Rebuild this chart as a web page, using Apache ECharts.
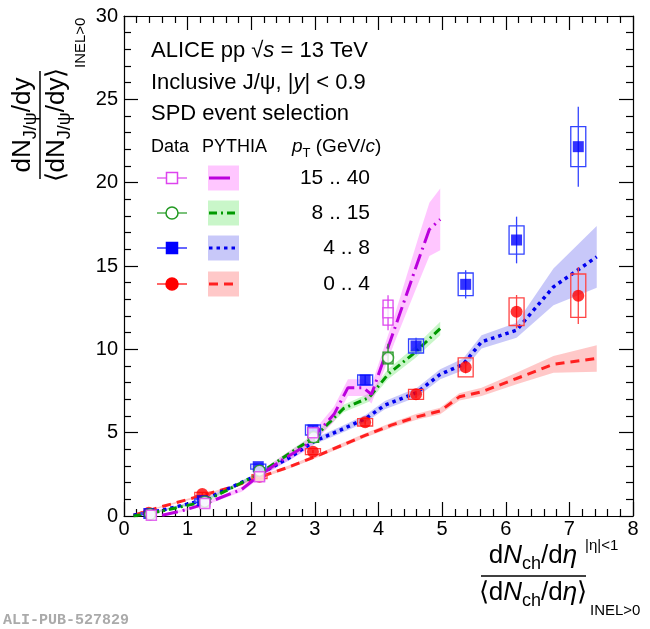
<!DOCTYPE html>
<html>
<head>
<meta charset="utf-8">
<script src="https://cdn.jsdelivr.net/npm/echarts@6/dist/echarts.min.js"></script>
<style>
  html, body { margin: 0; padding: 0; background: #fff; }
  #chart { width: 650px; height: 629px; }
</style>
</head>
<body>
<div id="chart"></div>
<script>
// ALICE J/psi yield vs multiplicity

var ptLabels = ['15 .. 40', '8 .. 15', '4 .. 8', '0 .. 4'];

// Data: x, y, statistical and systematic errors
var d15_40X = [0.43, 1.27, 2.13, 2.97, 4.15];
var d15_40Y = [0.05, 0.75, 2.36, 5.0, 12.2];
var d15_40Stat = [0.05, 0.15, 0.3, 0.4, 1.05];
var d15_40Syst = [0.1, 0.2, 0.25, 0.3, 0.75];

var d8_15X = [0.41, 1.27, 2.13, 2.98, 4.15];
var d8_15Y = [0.1, 0.86, 2.72, 4.72, 9.48];
var d8_15Stat = [0.05, 0.1, 0.2, 0.3, 0.85];
var d8_15Syst = [0.06, 0.12, 0.18, 0.3, 0.35];

var d4_8X = [0.39, 1.23, 2.11, 2.97, 3.79, 4.59, 5.37, 6.17, 7.14];
var d4_8Y = [0.15, 0.92, 2.96, 5.16, 8.16, 10.2, 13.9, 16.56, 22.16];
var d4_8Stat = [0.05, 0.07, 0.12, 0.18, 0.3, 0.5, 0.85, 1.4, 2.4];
var d4_8Syst = [0.05, 0.1, 0.15, 0.3, 0.3, 0.42, 0.68, 0.85, 1.2];

var d0_4X = [0.39, 1.23, 2.13, 2.97, 3.79, 4.59, 5.37, 6.17, 7.14];
var d0_4Y = [0.2, 1.32, 2.36, 3.86, 5.62, 7.3, 8.92, 12.26, 13.22];
var d0_4Stat = [0.04, 0.06, 0.08, 0.1, 0.15, 0.22, 0.35, 1.0, 1.7];
var d0_4Syst = [0.06, 0.1, 0.12, 0.18, 0.22, 0.3, 0.57, 0.83, 1.3];

// PYTHIA: x, y, band half-width
var py15_40X = [0.6, 0.9, 1.25, 1.85, 2.15, 2.5, 2.85, 3.3, 3.52, 3.76, 3.89, 4.25, 4.45, 4.65, 4.8, 4.97];
var py15_40Y = [0.05, 0.3, 0.7, 1.6, 2.5, 3.4, 4.2, 6.1, 7.7, 7.7, 7.3, 11.2, 13.4, 15.6, 17.2, 17.8];
var py15_40E = [0.05, 0.08, 0.1, 0.15, 0.2, 0.25, 0.3, 0.45, 0.5, 0.5, 0.55, 0.8, 1.1, 1.4, 1.6, 1.85];

var py8_15X = [0.15, 0.6, 1.25, 1.7, 2.15, 2.6, 3.0, 3.45, 3.85, 4.15, 4.57, 4.97];
var py8_15Y = [0.0, 0.3, 0.85, 1.7, 2.6, 3.75, 4.75, 6.45, 7.1, 8.5, 9.8, 11.25];
var py8_15E = [0.03, 0.05, 0.08, 0.1, 0.12, 0.15, 0.18, 0.22, 0.25, 0.3, 0.35, 0.4];

var py4_8X = [0.15, 0.6, 1.25, 1.7, 2.15, 2.6, 3.0, 3.4, 3.8, 4.1, 4.6, 4.97, 5.33, 5.62, 6.17, 6.75, 7.43];
var py4_8Y = [0.05, 0.35, 0.95, 1.75, 2.55, 3.5, 4.5, 5.15, 5.85, 6.65, 7.4, 8.5, 9.1, 10.45, 11.15, 13.75, 15.55];
var py4_8E = [0.03, 0.05, 0.08, 0.1, 0.12, 0.15, 0.18, 0.2, 0.22, 0.25, 0.28, 0.3, 0.35, 0.4, 0.45, 1.1, 1.85];

var py0_4X = [0.15, 0.63, 1.25, 1.7, 2.15, 2.6, 3.0, 3.4, 3.8, 4.2, 4.6, 4.97, 5.27, 5.62, 6.17, 6.75, 7.43];
var py0_4Y = [0.05, 0.6, 1.25, 1.75, 2.35, 2.95, 3.55, 4.2, 4.85, 5.45, 5.95, 6.3, 7.15, 7.45, 8.25, 9.1, 9.45];
var py0_4E = [0.03, 0.05, 0.06, 0.07, 0.08, 0.1, 0.1, 0.12, 0.13, 0.15, 0.18, 0.2, 0.22, 0.25, 0.35, 0.5, 0.8];

var FONT = "'Liberation Sans', Arial, Helvetica, sans-serif";
var measureCtx = document.createElement('canvas').getContext('2d');

function fontStr(size, italic) { return (italic ? 'italic ' : '') + size + 'px ' + FONT; }
function textW(s, size, italic) {
  measureCtx.font = fontStr(size, italic);
  return measureCtx.measureText(s).width;
}

// lay out a row of text pieces (with sub/superscripts) as graphic texts
function mathRow(parts, size, x0, y0, align) {
  var items = [], w = 0;
  parts.forEach(function(p) {
    var fs = (p.sub || p.sup) ? Math.round(size * 0.68) : size;
    var dy = p.sub ? size * 0.32 : (p.sup ? -size * 0.38 : 0);
    items.push({ t: p.t, fs: fs, dy: dy, i: p.i, x: w });
    w += textW(p.t, fs, p.i);
  });
  var start = align === 'center' ? x0 - w / 2 : (align === 'right' ? x0 - w : x0);
  return items.map(function(it) {
    return {
      type: 'text', x: start + it.x, y: y0 + it.dy,
      style: {
        text: it.t, font: fontStr(it.fs, it.i), fill: '#000',
        textAlign: 'left', textVerticalAlign: 'middle', align: 'left', verticalAlign: 'middle'
      }
    };
  });
}

function bandSeries(xs, ys, es, color) {
  return {
    type: 'custom', silent: true, z: 1, clip: true,
    data: [[xs[0], ys[0]]],
    renderItem: function(params, api) {
      var pts = [];
      for (var i = 0; i < xs.length; i++) pts.push(api.coord([xs[i], ys[i] + es[i]]));
      for (var j = xs.length - 1; j >= 0; j--) pts.push(api.coord([xs[j], Math.max(0, ys[j] - es[j])]));
      return { type: 'polygon', shape: { points: pts }, style: { fill: color } };
    }
  };
}

function lineSeries(xs, ys, color, dash, width) {
  return {
    type: 'line', z: 3, silent: true, symbol: 'none', clip: true,
    data: xs.map(function(x, i) { return [x, ys[i]]; }),
    lineStyle: { color: color, width: width, type: dash, cap: 'butt' }
  };
}

function errorSeries(xs, ys, stat, syst, color, boxHalf) {
  return {
    type: 'custom', z: 5, silent: true,
    data: xs.map(function(x, i) { return [x, ys[i], stat[i], syst[i]]; }),
    renderItem: function(params, api) {
      var x = api.value(0), y = api.value(1), st = api.value(2), sy = api.value(3);
      var c = api.coord([x, y]);
      var top = api.coord([x, y + st])[1], bot = api.coord([x, Math.max(0, y - st)])[1];
      var bt = api.coord([x, y + sy])[1], bb = api.coord([x, Math.max(0, y - sy)])[1];
      return {
        type: 'group',
        children: [
          { type: 'line', shape: { x1: c[0], y1: top, x2: c[0], y2: bot }, style: { stroke: color, lineWidth: 1.3 } },
          { type: 'rect', shape: { x: c[0] - boxHalf, y: bt, width: 2 * boxHalf, height: bb - bt },
            style: { fill: 'none', stroke: color, lineWidth: 1.3 } }
        ]
      };
    }
  };
}

function pointSeries(xs, ys, symbol, size, color, open) {
  return {
    type: 'scatter', z: 6, silent: true, symbol: symbol, symbolSize: size,
    data: xs.map(function(x, i) { return [x, ys[i]]; }),
    itemStyle: open ? { color: '#fff', borderColor: color, borderWidth: 1.5 } : { color: color }
  };
}

var colMag = '#dd44ee', colGrn = '#229922', colBlu = '#0000ff', colRed = '#ff0000';
var lineMag = '#bb00dd', lineGrn = '#009900', lineBlu = '#0000ee', lineRed = '#ff2020';
var bandMag = 'rgba(255,120,255,0.42)', bandGrn = 'rgba(100,230,100,0.35)';
var bandBlu = 'rgba(110,110,240,0.38)', bandRed = 'rgba(255,110,110,0.38)';
var dashMag = [16, 5, 2, 5], dashGrn = [8, 4, 2, 4], dashBlu = [3.5, 4], dashRed = [9, 6];

var chart = echarts.init(document.getElementById('chart'));

function axisCommon(extra) {
  var a = {
    type: 'value',
    axisLine: { onZero: false, lineStyle: { color: '#000', width: 1.2 } },
    axisTick: { inside: true, length: 14, lineStyle: { color: '#000', width: 1.2 } },
    minorTick: { show: true, splitNumber: 5, length: 7, lineStyle: { color: '#000', width: 1.2 } },
    splitLine: { show: false },
    axisLabel: { fontSize: 20, color: '#000', fontFamily: FONT }
  };
  for (var k in extra) a[k] = extra[k];
  return a;
}

// legend + annotations
var graphics = [];
graphics = graphics.concat(
  mathRow([{ t: 'ALICE pp ' }, { t: '√' }, { t: 's', i: 1 }, { t: ' = 13 TeV' }], 22, 151, 51, 'left'),
  mathRow([{ t: 'Inclusive J/ψ, |' }, { t: 'y', i: 1 }, { t: '| < 0.9' }], 22, 151, 83, 'left'),
  mathRow([{ t: 'SPD event selection' }], 22, 151, 114, 'left'),
  mathRow([{ t: 'Data' }], 18, 151, 147, 'left'),
  mathRow([{ t: 'PYTHIA' }], 18, 202, 147, 'left'),
  mathRow([{ t: 'p', i: 1 }, { t: 'T', sub: 1 }, { t: ' (GeV/' }, { t: 'c', i: 1 }, { t: ')' }], 19, 292, 147, 'left')
);

var legRows = [178, 213, 248, 284];
var legData = [
  { c: colMag, l: lineMag, b: bandMag, d: [], sym: 'rect', open: true, lx2: 230 },
  { c: colGrn, l: lineGrn, b: bandGrn, d: dashGrn, sym: 'circle', open: true, lx2: 238 },
  { c: colBlu, l: lineBlu, b: bandBlu, d: dashBlu, sym: 'rect', open: false, lx2: 238 },
  { c: colRed, l: lineRed, b: bandRed, d: dashRed, sym: 'circle', open: false, lx2: 238 }
];
legData.forEach(function(e, i) {
  var y = legRows[i];
  graphics.push({ type: 'line', shape: { x1: 157, y1: y, x2: 187, y2: y }, style: { stroke: e.c, lineWidth: 1.2 } });
  if (e.sym === 'rect') {
    graphics.push({ type: 'rect', shape: { x: 172 - 5.5, y: y - 5.5, width: 11, height: 11 },
      style: { fill: e.open ? '#fff' : e.c, stroke: e.c, lineWidth: 1.5 } });
  } else {
    graphics.push({ type: 'circle', shape: { cx: 172, cy: y, r: 6 },
      style: { fill: e.open ? '#fff' : e.c, stroke: e.c, lineWidth: 1.5 } });
  }
  graphics.push({ type: 'rect', shape: { x: 208, y: y - 12.5, width: 31, height: 25 }, style: { fill: e.b } });
  graphics.push({ type: 'line', shape: { x1: 209, y1: y, x2: e.lx2, y2: y },
    style: { stroke: e.l, lineWidth: 3, lineDash: e.d.length ? e.d : null } });
  graphics = graphics.concat(mathRow([{ t: ptLabels[i] }], 21, 370, y, 'right'));
});

// y-axis title (rotated fraction)
graphics.push({
  type: 'group', x: 40, y: 125, rotation: Math.PI / 2,
  children: [].concat(
    mathRow([{ t: 'dN' }, { t: 'J/ψ', sub: 1 }, { t: '/dy' }], 26, 0, -17, 'center'),
    [{ type: 'line', shape: { x1: -54, y1: 0, x2: 54, y2: 0 }, style: { stroke: '#000', lineWidth: 1.5 } }],
    mathRow([{ t: '⟨dN' }, { t: 'J/ψ', sub: 1 }, { t: '/dy⟩' }], 26, 0, 17, 'center'),
    mathRow([{ t: 'INEL>0' }], 15, 57, 41, 'left')
  )
});

// x-axis title
graphics = graphics.concat(
  mathRow([{ t: 'd' }, { t: 'N', i: 1 }, { t: 'ch', sub: 1 }, { t: '/d' }, { t: 'η', i: 1 }], 26, 533, 556, 'center'),
  mathRow([{ t: '|η|<1' }], 15, 585, 546, 'left'),
  [{ type: 'line', shape: { x1: 481, y1: 576, x2: 586, y2: 576 }, style: { stroke: '#000', lineWidth: 1.5 } }],
  mathRow([{ t: '⟨d' }, { t: 'N', i: 1 }, { t: 'ch', sub: 1 }, { t: '/d' }, { t: 'η', i: 1 }, { t: '⟩' }], 26, 533, 593, 'center'),
  mathRow([{ t: 'INEL>0' }], 15, 590, 611, 'left')
);

graphics.push({
  type: 'text', x: 3, y: 620,
  style: { text: 'ALI-PUB-527829', font: "bold 15px 'Liberation Mono', 'DejaVu Sans Mono', monospace", fill: '#aaaaaa',
    textVerticalAlign: 'middle', verticalAlign: 'middle' }
});

chart.setOption({
  animation: false,
  backgroundColor: '#fff',
  grid: { left: 124, right: 17, top: 16, bottom: 113 },
  xAxis: [
    axisCommon({ min: 0, max: 8, interval: 1, position: 'bottom', axisLabel: { fontSize: 20, color: '#000', fontFamily: FONT, margin: 3 } }),
    axisCommon({ min: 0, max: 8, interval: 1, position: 'top', axisLabel: { show: false } })
  ],
  yAxis: [
    axisCommon({ min: 0, max: 30, interval: 5, position: 'left', axisLabel: { fontSize: 20, color: '#000', fontFamily: FONT, margin: 6 } }),
    axisCommon({ min: 0, max: 30, interval: 5, position: 'right', axisLabel: { show: false } })
  ],
  series: [
    bandSeries(py0_4X, py0_4Y, py0_4E, bandRed),
    bandSeries(py4_8X, py4_8Y, py4_8E, bandBlu),
    bandSeries(py8_15X, py8_15Y, py8_15E, bandGrn),
    bandSeries(py15_40X, py15_40Y, py15_40E, bandMag),
    lineSeries(py0_4X, py0_4Y, lineRed, dashRed, 3),
    lineSeries(py4_8X, py4_8Y, lineBlu, dashBlu, 3.5),
    lineSeries(py8_15X, py8_15Y, lineGrn, dashGrn, 3),
    lineSeries(py15_40X, py15_40Y, lineMag, dashMag, 3),
    errorSeries(d0_4X, d0_4Y, d0_4Stat, d0_4Syst, '#ff4444', 7.5),
    errorSeries(d4_8X, d4_8Y, d4_8Stat, d4_8Syst, '#3344ff', 7.5),
    errorSeries(d8_15X, d8_15Y, d8_15Stat, d8_15Syst, colGrn, 5),
    errorSeries(d15_40X, d15_40Y, d15_40Stat, d15_40Syst, colMag, 5),
    pointSeries(d0_4X, d0_4Y, 'circle', 12, colRed, false),
    pointSeries(d4_8X, d4_8Y, 'rect', 11, colBlu, false),
    pointSeries(d8_15X, d8_15Y, 'circle', 11, colGrn, true),
    pointSeries(d15_40X, d15_40Y, 'rect', 10, colMag, true)
  ],
  graphic: { elements: graphics }
});
</script>
</body>
</html>
